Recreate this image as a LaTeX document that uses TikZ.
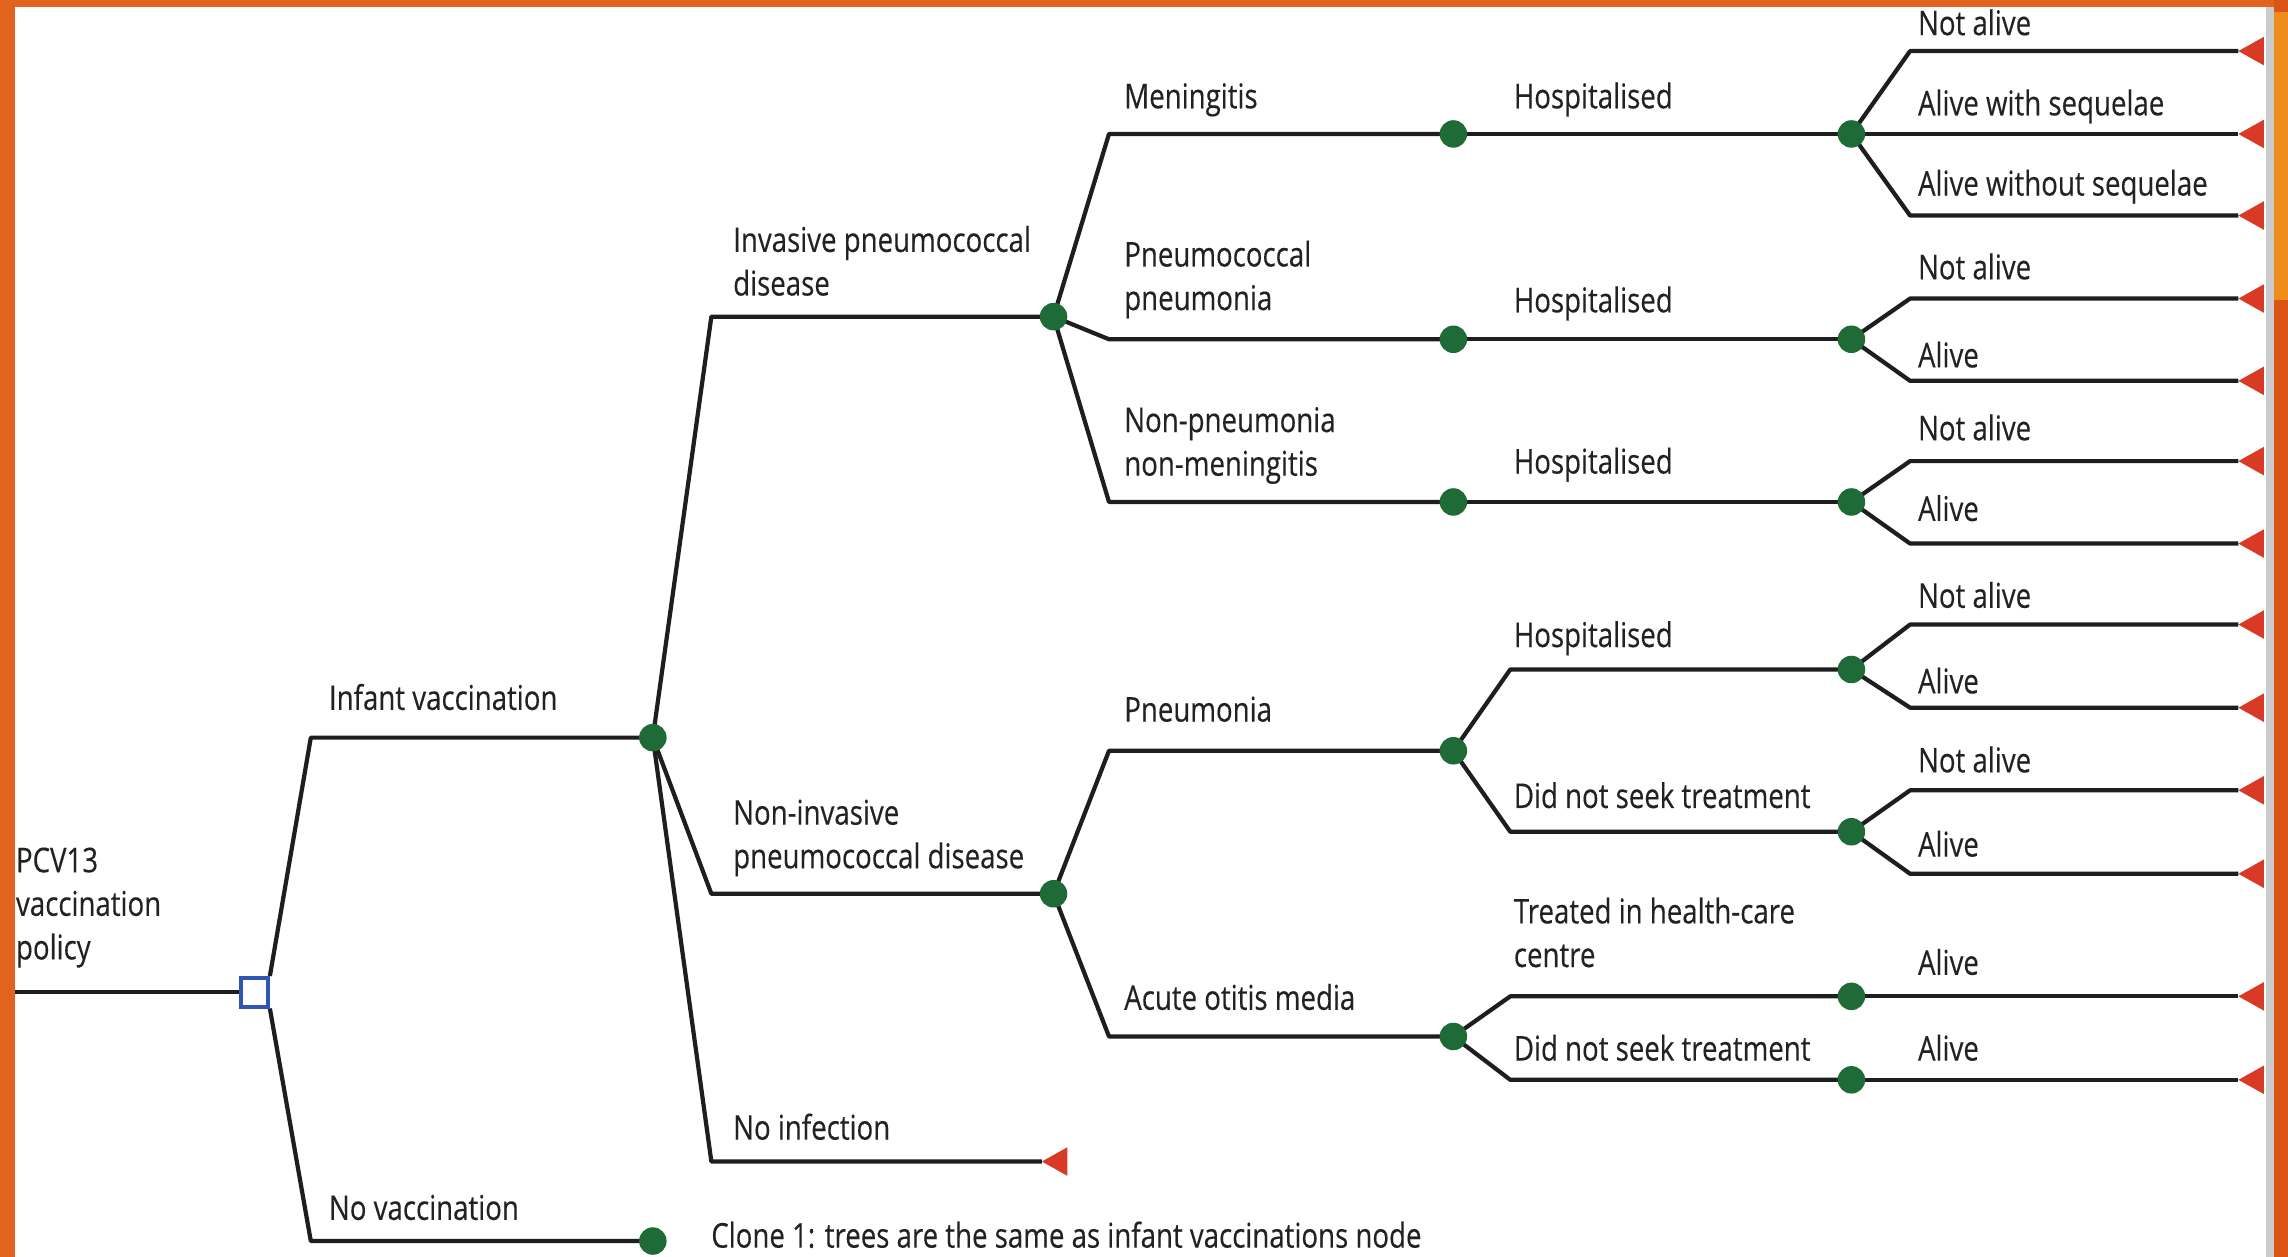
\documentclass[tikz,border=0pt]{standalone}
\usepackage{fontspec}
\setmainfont{Open Sans}[FakeStretch=0.81, FakeBold=0.25]
\usetikzlibrary{calc}

\definecolor{frameorange}{HTML}{E2631F}
\definecolor{framedark}{HTML}{DA5418}
\definecolor{framelight}{HTML}{EE8C1C}
\definecolor{framegray}{HTML}{CCCCCC}
\definecolor{chancegreen}{HTML}{1F6B37}
\definecolor{termred}{HTML}{D93A26}
\definecolor{decisionblue}{HTML}{2E55B8}
\definecolor{inkgray}{HTML}{1E1E1E}
\definecolor{txt}{HTML}{222222}

\pgfdeclarelayer{bg}
\pgfdeclarelayer{edges}
\pgfsetlayers{bg,edges,main}

% multi-line label, baseline on the last line
\newcommand{\lbllines}[1]{\begin{tabular}[b]{@{}l@{}}#1\end{tabular}}
% terminal (payoff) node: red triangle pointing left, tip named #1
\newcommand{\terminal}[3]{%
  \coordinate (#1) at (#2,#3);
  \fill[termred] (#1) -- ++(17.5,-9.8) -- ++(0,19.6) -- cycle;}

\tikzset{
  lbl/.style={anchor=base west, inner sep=0pt, text=txt,
    font=\fontsize{9.7}{12.4}\selectfont},
  chance/.style={circle, fill=chancegreen, inner sep=0pt, minimum size=0.275cm},
  decision/.style={rectangle, draw=decisionblue, fill=white, line width=1pt,
    minimum width=0.27cm, minimum height=0.29cm, inner sep=0pt},
  branch/.style={draw=inkgray, line width=1.2pt, line join=round},
}

\begin{document}
\begin{tikzpicture}[x=0.0145918cm, y=-0.0145918cm]
\useasboundingbox (0,0) rectangle (1568,861.4);

% ---- slide frame ----
\begin{pgfonlayer}{bg}
  \fill[white] (0,0) rectangle (1568,861.4);
  \fill[frameorange] (0,0) rectangle (10,861.4);
  \fill[frameorange] (0,0) rectangle (1568,4.6);
  \fill[framegray] (1553,4.6) rectangle (1558.5,861.4);
  \fill[framedark] (1558.5,0) rectangle (1568,861.4);
  \fill[framelight] (1558.5,8) rectangle (1568,205.6);
\end{pgfonlayer}

\clip (0,0) rectangle (1568,861.4);

% ---- column positions of the branch bends ----
\coordinate (col1) at (213,0);
\coordinate (col2) at (487.5,0);
\coordinate (col3) at (760,0);
\coordinate (col4) at (1035,0);
\coordinate (col5) at (1309,0);

% ---- decision and chance nodes ----
\coordinate (start) at (10,680);
\node[decision] (root) at (174.5,680) {};

\node[chance] (iv) at (447.4,505.5) {};
\node[chance] (nv) at (447.4,850.5) {};

\node[chance] (ipd)  at (722,217) {};
\node[chance] (nipd) at (722,612.5) {};
\terminal{noinf}{714}{796}

\node[chance] (men) at (996,91.8) {};
\node[chance] (pp)  at (996,232.5) {};
\node[chance] (nn)  at (996,344) {};
\node[chance] (pn)  at (996,514.5) {};
\node[chance] (aom) at (996,710.3) {};

\node[chance] (menh) at (1268.8,91.8) {};
\node[chance] (pph)  at (1268.8,232.5) {};
\node[chance] (nnh)  at (1268.8,344) {};
\node[chance] (pnh)  at (1268.8,458.8) {};
\node[chance] (pnd)  at (1268.8,570) {};
\node[chance] (aomt) at (1268.8,682.8) {};
\node[chance] (aomd) at (1268.8,740) {};

% ---- terminal nodes ----
\terminal{t1}{1534}{35}
\terminal{t2}{1534}{91.8}
\terminal{t3}{1534}{147.7}
\terminal{t4}{1534}{204.6}
\terminal{t5}{1534}{261}
\terminal{t6}{1534}{316}
\terminal{t7}{1534}{372.5}
\terminal{t8}{1534}{428}
\terminal{t9}{1534}{485}
\terminal{t10}{1534}{541.6}
\terminal{t11}{1534}{598.8}
\terminal{t12}{1534}{682.8}
\terminal{t13}{1534}{740}

% ---- branches ----
\begin{pgfonlayer}{edges}
  \draw[branch] (start) -- (root.west);
  \draw[branch] (root.north east) -- (col1 |- iv) -- (iv.center);
  \draw[branch] (root.south east) -- (col1 |- nv) -- (nv.center);

  \draw[branch] (iv.center) -- (col2 |- ipd) -- (ipd.center);
  \draw[branch] (iv.center) -- (col2 |- nipd) -- (nipd.center);
  \draw[branch] (iv.center) -- (col2 |- noinf) -- (noinf);

  \draw[branch] (ipd.center) -- (col3 |- men) -- (men.center);
  \draw[branch] (ipd.center) -- (col3 |- pp) -- (pp.center);
  \draw[branch] (ipd.center) -- (col3 |- nn) -- (nn.center);
  \draw[branch] (nipd.center) -- (col3 |- pn) -- (pn.center);
  \draw[branch] (nipd.center) -- (col3 |- aom) -- (aom.center);

  \draw[branch] (men.center) -- (menh.center);
  \draw[branch] (pp.center) -- (pph.center);
  \draw[branch] (nn.center) -- (nnh.center);
  \draw[branch] (pn.center) -- (col4 |- pnh) -- (pnh.center);
  \draw[branch] (pn.center) -- (col4 |- pnd) -- (pnd.center);
  \draw[branch] (aom.center) -- (col4 |- aomt) -- (aomt.center);
  \draw[branch] (aom.center) -- (col4 |- aomd) -- (aomd.center);

  \draw[branch] (menh.center) -- (col5 |- t1) -- (t1);
  \draw[branch] (menh.center) -- (t2);
  \draw[branch] (menh.center) -- (col5 |- t3) -- (t3);
  \draw[branch] (pph.center) -- (col5 |- t4) -- (t4);
  \draw[branch] (pph.center) -- (col5 |- t5) -- (t5);
  \draw[branch] (nnh.center) -- (col5 |- t6) -- (t6);
  \draw[branch] (nnh.center) -- (col5 |- t7) -- (t7);
  \draw[branch] (pnh.center) -- (col5 |- t8) -- (t8);
  \draw[branch] (pnh.center) -- (col5 |- t9) -- (t9);
  \draw[branch] (pnd.center) -- (col5 |- t10) -- (t10);
  \draw[branch] (pnd.center) -- (col5 |- t11) -- (t11);
  \draw[branch] (aomt.center) -- (t12);
  \draw[branch] (aomd.center) -- (t13);
\end{pgfonlayer}

% ---- branch labels ----
\node[lbl] (l-root) at (10.5,657.5) {\lbllines{PCV13\\vaccination\\policy}};
\node[lbl] (l-iv)   at (225,486.5) {Infant vaccination};
\node[lbl] (l-nv)   at (225,836) {No vaccination};
\node[lbl] (l-clone) at (487,855) {Clone 1: trees are the same as infant vaccinations node};

\node[lbl] (l-ipd)   at (502,202.5) {\lbllines{Invasive pneumococcal\\disease}};
\node[lbl] (l-nipd)  at (502,595) {\lbllines{Non-invasive\\pneumococcal disease}};
\node[lbl] (l-noinf) at (502,781) {No infection};

\node[lbl] (l-men) at (770,74.2) {Meningitis};
\node[lbl] (l-pp)  at (770,212.5) {\lbllines{Pneumococcal\\pneumonia}};
\node[lbl] (l-nn)  at (770,326) {\lbllines{Non-pneumonia\\non-meningitis}};
\node[lbl] (l-pn)  at (770,494.5) {Pneumonia};
\node[lbl] (l-aom) at (770,692) {Acute otitis media};

\node[lbl] (l-menh) at (1037,74.2) {Hospitalised};
\node[lbl] (l-pph)  at (1037,214) {Hospitalised};
\node[lbl] (l-nnh)  at (1037,324.5) {Hospitalised};
\node[lbl] (l-pnh)  at (1037,443.4) {Hospitalised};
\node[lbl] (l-pnd)  at (1037,553.7) {Did not seek treatment};
\node[lbl] (l-aomt) at (1037,662.7) {\lbllines{Treated in health-care\\centre}};
\node[lbl] (l-aomd) at (1037,726.8) {Did not seek treatment};

\node[lbl] (l-t1)  at (1314,24.1) {Not alive};
\node[lbl] (l-t2)  at (1314,79) {Alive with sequelae};
\node[lbl] (l-t3)  at (1314,134) {Alive without sequelae};
\node[lbl] (l-t4)  at (1314,191.4) {Not alive};
\node[lbl] (l-t5)  at (1314,251.8) {Alive};
\node[lbl] (l-t6)  at (1314,301.7) {Not alive};
\node[lbl] (l-t7)  at (1314,357) {Alive};
\node[lbl] (l-t8)  at (1314,416.5) {Not alive};
\node[lbl] (l-t9)  at (1314,475.2) {Alive};
\node[lbl] (l-t10) at (1314,529.3) {Not alive};
\node[lbl] (l-t11) at (1314,587) {Alive};
\node[lbl] (l-t12) at (1314,668) {Alive};
\node[lbl] (l-t13) at (1314,726.8) {Alive};
\end{tikzpicture}
\end{document}
